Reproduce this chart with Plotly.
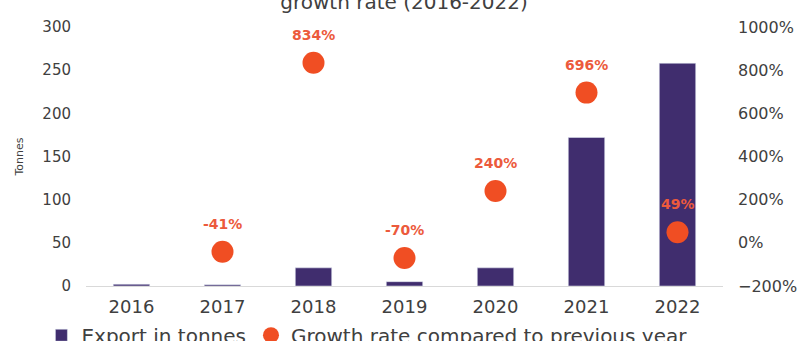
import plotly.graph_objects as go

years = [2016, 2017, 2018, 2019, 2020, 2021, 2022]
export_tonnes = [2, 1.5, 21, 5, 21, 172, 258]
growth_years = [2017, 2018, 2019, 2020, 2021, 2022]
growth_pct = [-41, 834, -70, 240, 696, 49]

bar_color = "#402d6e"
dot_color = "#f04e23"
label_color = "#ec5a3c"
font = "DejaVu Sans"

fig = go.Figure()
fig.add_trace(go.Bar(
    x=years, y=export_tonnes, name="Export in tonnes",
    marker_color=bar_color, width=0.4, yaxis="y",
))
fig.add_trace(go.Scatter(
    x=growth_years, y=growth_pct, name="Growth rate compared to previous year",
    mode="markers", marker=dict(color=dot_color, size=22), yaxis="y2",
))
for yr, g in zip(growth_years, growth_pct):
    fig.add_annotation(
        x=yr, y=g, xref="x", yref="y2", text=f"<b>{g}%</b>", showarrow=False,
        yshift=28, font=dict(family=font, size=14, color=label_color),
    )

fig.update_layout(
    width=808, height=341,
    margin=dict(l=86, r=85, t=27, b=55, autoexpand=False),
    paper_bgcolor="white", plot_bgcolor="white",
    font=dict(family=font, color="#404040"),
    title=dict(text="growth rate (2016-2022)", x=0.5, xanchor="center",
               y=0.995, yref="container", yanchor="middle",
               font=dict(size=20, color="#404040", family=font)),
    xaxis=dict(range=[2015.5, 2022.5], tickmode="array", tickvals=years,
               ticktext=[str(y) for y in years],
               showline=True, linecolor="#d9d9d9", linewidth=1,
               showgrid=False, zeroline=False, ticks="", ticklabelstandoff=4,
               tickfont=dict(size=18, color="#404040")),
    yaxis=dict(range=[0, 300], dtick=50, showgrid=False, zeroline=False,
               ticklabelstandoff=14,
               tickfont=dict(size=15, color="#404040"),
               title=dict(text="Tonnes", font=dict(size=11, color="#404040"), standoff=16)),
    yaxis2=dict(range=[-200, 1000], dtick=200, overlaying="y", side="right",
                showgrid=False, zeroline=False, ticksuffix="%",
                ticklabelstandoff=14,
                tickfont=dict(size=16, color="#404040")),
    legend=dict(orientation="h", x=-0.07, xanchor="left", y=-0.19, yanchor="middle",
                font=dict(size=20, color="#404040"), itemwidth=30),
    showlegend=True,
)
fig.write_html("out.html")
